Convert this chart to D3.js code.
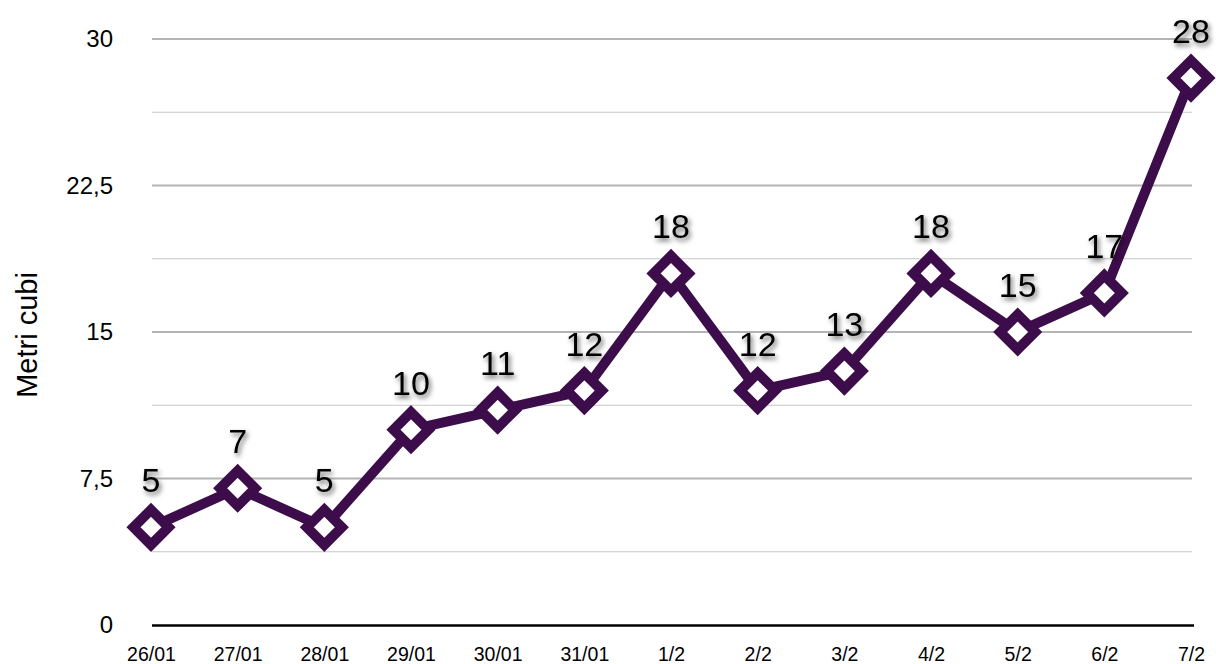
<!DOCTYPE html>
<html>
<head>
<meta charset="utf-8">
<script src="https://cdn.jsdelivr.net/npm/d3@7"></script>
<style>
  body { margin: 0; background: #fff; }
  svg { display: block; font-family: "Liberation Sans", Arial, Helvetica, sans-serif; }
</style>
</head>
<body>
<svg id="chart"></svg>
<script>
// data
const categories = ["26/01","27/01","28/01","29/01","30/01","31/01","1/2","2/2","3/2","4/2","5/2","6/2","7/2"];
const values = [5, 7, 5, 10, 11, 12, 18, 12, 13, 18, 15, 17, 28];
const yTicks = [0, 7.5, 15, 22.5, 30];
const gridValues = [3.75, 7.5, 11.25, 15, 18.75, 22.5, 26.25, 30];
const yLabel = "Metri cubi";

const width = 1216, height = 664;
const plot = {left: 151, right: 1191, top: 39, bottom: 625};
const lineColor = "#3d0c4a";

const svg = d3.select("#chart").attr("width", width).attr("height", height);

const defs = svg.append("defs");
const shadow = defs.append("filter").attr("id", "shadow")
    .attr("x", "-30%").attr("y", "-30%").attr("width", "160%").attr("height", "160%");
shadow.append("feDropShadow")
    .attr("dx", 2).attr("dy", 3).attr("stdDeviation", 2.5)
    .attr("flood-color", "#000").attr("flood-opacity", 0.6);

const x = d3.scalePoint().domain(categories).range([plot.left, plot.right]).padding(0);
const y = d3.scaleLinear().domain([0, 30]).range([plot.bottom, plot.top]);

// grid lines
svg.append("g").selectAll("line")
    .data(gridValues)
    .join("line")
    .attr("x1", plot.left + 1).attr("x2", plot.right + 1)
    .attr("y1", d => y(d)).attr("y2", d => y(d))
    .attr("stroke", d => d % 7.5 === 0 ? "#b4b4b4" : "#c6c6c6")
    .attr("stroke-width", d => d % 7.5 === 0 ? 2 : 1.2);

// y axis labels
const yAxis = d3.axisLeft(y).tickValues(yTicks).tickSize(0).tickPadding(0)
    .tickFormat(d => String(d).replace(".", ","));
const yg = svg.append("g").attr("transform", "translate(113,0)").call(yAxis);
yg.select(".domain").remove();
yg.selectAll("text").attr("font-size", 24).attr("fill", "#000")
    .attr("font-family", "Liberation Sans, Arial, sans-serif");

// x axis
const xAxis = d3.axisBottom(x).tickSize(0).tickPadding(0);
const xg = svg.append("g").attr("transform", `translate(0,${plot.bottom})`).call(xAxis);
xg.select(".domain").remove();
xg.selectAll("text").attr("font-size", 19.5).attr("fill", "#000")
    .attr("y", 22).attr("dy", "0.71em")
    .attr("font-family", "Liberation Sans, Arial, sans-serif");
svg.append("line")
    .attr("x1", plot.left + 1).attr("x2", plot.right + 3)
    .attr("y1", plot.bottom + 0.5).attr("y2", plot.bottom + 0.5)
    .attr("stroke", "#000").attr("stroke-width", 2.5);

// y axis title
svg.append("text")
    .attr("transform", `translate(37,335) rotate(-90)`)
    .attr("text-anchor", "middle")
    .attr("font-size", 29)
    .attr("fill", "#000")
    .text(yLabel);

// line
const line = d3.line().x((d, i) => x(categories[i])).y(d => y(d));
svg.append("path")
    .datum(values)
    .attr("d", line)
    .attr("fill", "none")
    .attr("stroke", lineColor)
    .attr("stroke-width", 10)
    .attr("stroke-linejoin", "miter");

// markers
const diamond = 17.5;
svg.append("g").selectAll("path")
    .data(values)
    .join("path")
    .attr("transform", (d, i) => `translate(${x(categories[i])},${y(d)})`)
    .attr("d", `M0,${-diamond}L${diamond},0L0,${diamond}L${-diamond},0Z`)
    .attr("fill", "#fff")
    .attr("stroke", lineColor)
    .attr("stroke-width", 10)
    .attr("stroke-linejoin", "miter");

// value labels
svg.append("g").selectAll("text")
    .data(values)
    .join("text")
    .attr("x", (d, i) => x(categories[i]))
    .attr("y", d => y(d) - 35)
    .attr("text-anchor", "middle")
    .attr("font-size", 34)
    .attr("fill", "#000")
    .attr("filter", "url(#shadow)")
    .text(d => d);
</script>
</body>
</html>
